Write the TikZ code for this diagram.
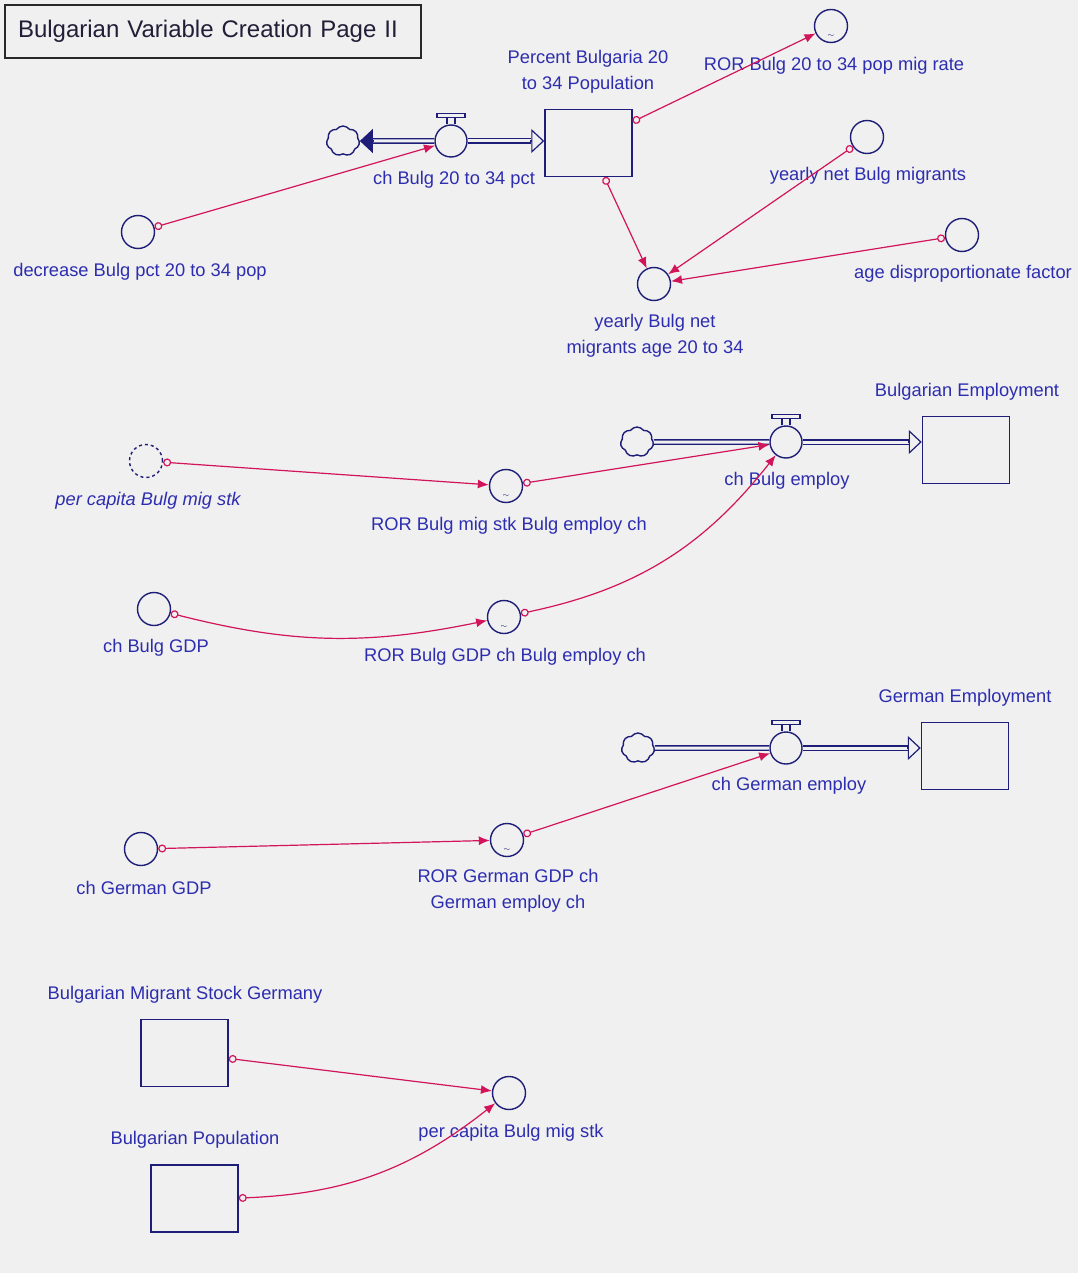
\documentclass[tikz,border=0pt]{standalone}
\usepackage{fontspec}
\setmainfont{Liberation Sans}
\usepackage{xcolor}
\usetikzlibrary{arrows.meta}
\usetikzlibrary{shapes.symbols}
\definecolor{navy}{RGB}{30,30,120}
\definecolor{labelblue}{RGB}{45,45,175}
\definecolor{crimson}{RGB}{210,20,90}
\definecolor{bgcol}{RGB}{240,240,240}
\definecolor{titleline}{RGB}{40,40,40}
\definecolor{titletext}{RGB}{35,30,55}

% poignée de vanne au-dessus d'un débit
\newcommand{\valvehandle}[1]{%
  \draw[navy, line width=1.2pt] ([xshift=-4pt]#1.north) -- ++(0pt,7pt)
    ([xshift=4pt]#1.north) -- ++(0pt,7pt);
  \draw[navy, line width=1.2pt] ([xshift=-14pt,yshift=7pt]#1.north)
    rectangle ([xshift=14pt,yshift=11pt]#1.north);}

\begin{document}
\begin{tikzpicture}[x=1pt, y=-1pt,
    aux/.style={circle, draw=navy, line width=1.4pt, minimum size=33pt, inner sep=0pt},
    ghost/.style={aux, dashed},
    valve/.style={aux, minimum size=32pt},
    stock/.style={rectangle, draw=navy, line width=1.5pt, minimum width=87pt, minimum height=67pt, inner sep=0pt},
    source/.style={cloud, cloud puffs=7, cloud puff arc=110, aspect=1.1, draw=navy, line width=1.4pt, minimum width=33pt, minimum height=30pt, inner sep=0pt},
    lbl/.style={text=labelblue, font=\fontsize{18.3}{26}\selectfont, align=center, inner sep=0pt},
    link/.style={draw=crimson, line width=1.2pt, {Circle[open,length=8pt,width=8pt]}-{Latex[length=11pt,width=9pt]}},
    pipe/.style={draw=navy, double=bgcol, double distance=3pt, line width=1.3pt},
    intip/.style={draw=navy, line width=1.2pt, -{Triangle[open,length=13pt,width=24pt]}},
    outtip/.style={draw=navy, line width=1.2pt, -{Triangle[length=13pt,width=24pt]}},
    tld/.style={text=navy, font=\footnotesize, inner sep=0pt}]

    % Fond et cadre
    \fill[bgcol] (0,0) rectangle (1078,1273);
    \useasboundingbox (0,0) rectangle (1078,1273);
    \node[draw=titleline, line width=1.8pt, minimum width=416pt, minimum height=53pt,
          text width=390pt, inner xsep=13pt, align=left, text=titletext,
          font=\fontsize{24}{28}\selectfont] (title) at (213,31.5)
          {Bulgarian Variable Creation Page II};

    % Partie 1 : pourcentage 20 a 34
    \node[source] (c1) at (343,141) {};
    \node[valve] (v1) at (451,141) {};
    \node[stock] (s1) at (588.5,143) {};
    \node[aux] (dec) at (138,232) {};
    \node[aux] (rorrate) at (831,26) {};
    \node[aux] (ynbm) at (867,137) {};
    \node[aux] (agef) at (962,235) {};
    \node[aux] (ybn) at (654,284) {};
    \node[tld] (t1) at ([yshift=7pt]rorrate.south) {$\sim$};

    \node[lbl] (s1L) at (588,72) {Percent Bulgaria 20\\to 34 Population};
    \node[lbl] (v1L) at (454,180) {ch Bulg 20 to 34 pct};
    \node[lbl] (decL) at (140,272) {decrease Bulg pct 20 to 34 pop};
    \node[lbl] (rorrateL) at (834,66) {ROR Bulg 20 to 34 pop mig rate};
    \node[lbl] (ynbmL) at (868,176) {yearly net Bulg migrants};
    \node[lbl] (agefL) at (963,274) {age disproportionate factor};
    \node[lbl] (ybnL) at (655,336) {yearly Bulg net\\migrants age 20 to 34};

    \coordinate (p1) at (v1.east -| s1.west);
    \draw[pipe] (v1.west) -- ([xshift=13pt]c1.east);
    \draw[outtip] ([xshift=14pt]c1.east) -- (c1.east);
    \draw[pipe] (v1.east) -- ([xshift=-13pt]p1);
    \draw[intip] ([xshift=-14pt]p1) -- (p1);
    \valvehandle{v1}

    \draw[link] (dec) -- (v1);
    \draw[link] (s1) -- (rorrate);
    \draw[link] (s1) -- (ybn);
    \draw[link] (ynbm) -- (ybn);
    \draw[link] (agef) -- (ybn);

    % Partie 2 : emploi bulgare
    \node[source] (c2) at (637,442) {};
    \node[valve] (v2) at (786,442) {};
    \node[stock] (s2) at (966,450) {};
    \node[ghost] (pcg) at (146,461) {};
    \node[aux] (rormig) at (506,486) {};
    \node[aux] (chgdp) at (154,609) {};
    \node[aux] (rorgdp) at (504,617) {};
    \node[tld] (t2) at ([yshift=7pt]rormig.south) {$\sim$};
    \node[tld] (t3) at ([yshift=7pt]rorgdp.south) {$\sim$};

    \node[lbl] (s2L) at (967,392) {Bulgarian Employment};
    \node[lbl] (v2L) at (787,481) {ch Bulg employ};
    \node[lbl, font=\fontsize{18.3}{26}\selectfont\itshape] (pcgL) at (148,501) {per capita Bulg mig stk};
    \node[lbl] (rormigL) at (509,526) {ROR Bulg mig stk Bulg employ ch};
    \node[lbl] (chgdpL) at (156,648) {ch Bulg GDP};
    \node[lbl] (rorgdpL) at (505,657) {ROR Bulg GDP ch Bulg employ ch};

    \coordinate (p2) at (v2.east -| s2.west);
    \draw[pipe] (c2.east) -- (v2.west);
    \draw[pipe] (v2.east) -- ([xshift=-13pt]p2);
    \draw[intip] ([xshift=-14pt]p2) -- (p2);
    \valvehandle{v2}

    \draw[link] (pcg) -- (rormig);
    \draw[link] (rormig) -- (v2);
    \draw[link] (chgdp) to[bend right=13] (rorgdp);
    \draw[link] (rorgdp) to[bend right=20] (v2);

    % Partie 3 : emploi allemand
    \node[source] (c3) at (638,748) {};
    \node[valve] (v3) at (786,748) {};
    \node[stock] (s3) at (965,756) {};
    \node[aux] (chggdp) at (141,849) {};
    \node[aux] (rorger) at (507,840) {};
    \node[tld] (t4) at ([yshift=7pt]rorger.south) {$\sim$};

    \node[lbl] (s3L) at (965,698) {German Employment};
    \node[lbl] (v3L) at (789,786) {ch German employ};
    \node[lbl] (chggdpL) at (144,888) {ch German GDP};
    \node[lbl] (rorgerL) at (508,891) {ROR German GDP ch\\German employ ch};

    \coordinate (p3) at (v3.east -| s3.west);
    \draw[pipe] (c3.east) -- (v3.west);
    \draw[pipe] (v3.east) -- ([xshift=-13pt]p3);
    \draw[intip] ([xshift=-14pt]p3) -- (p3);
    \valvehandle{v3}

    \draw[link] (chggdp) -- (rorger);
    \draw[link] (rorger) -- (v3);

    % Partie 4 : stock de migrants par habitant
    \node[stock] (s4) at (184.5,1053) {};
    \node[stock] (s5) at (194.5,1198.5) {};
    \node[aux] (pc) at (509,1093) {};

    \node[lbl] (s4L) at (185,995) {Bulgarian Migrant Stock Germany};
    \node[lbl] (s5L) at (195,1140) {Bulgarian Population};
    \node[lbl] (pcL) at (511,1133) {per capita Bulg mig stk};

    \draw[link] (s4) -- (pc);
    \draw[link] (s5) to[bend right=18] (pc);

\end{tikzpicture}
\end{document}
